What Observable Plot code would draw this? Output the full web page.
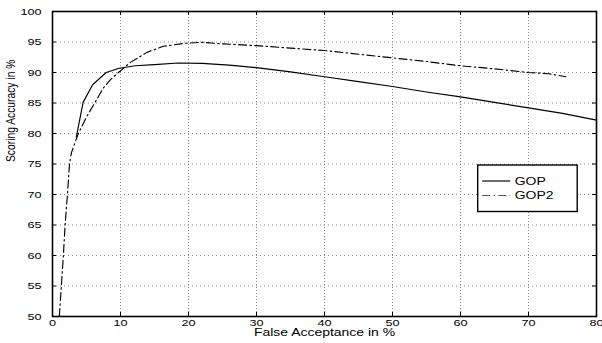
<!DOCTYPE html>
<html><head><meta charset="utf-8">
<script src="https://cdn.jsdelivr.net/npm/d3@7"></script>
<script src="https://cdn.jsdelivr.net/npm/@observablehq/plot@0.6"></script>
<style>
body{margin:0;background:#fff;}
#chart{position:relative;width:602px;height:343px;background:#fff;}
#chart svg{display:block;position:absolute;left:0;top:0;}
</style>
</head><body><div id="chart"></div>
<script>
// ---- data ----
const xTicks = [0, 10, 20, 30, 40, 50, 60, 70, 80];
const yTicks = [50, 55, 60, 65, 70, 75, 80, 85, 90, 95, 100];
const seriesNames = ["GOP", "GOP2"];
const xLabel = "False Acceptance in %";
const yLabel = "Scoring Accuracy in %";

const gopX = [3.5, 4.5, 5.9, 7.9, 9.8, 12.2, 15, 18.5, 22, 26, 30, 35, 40, 45, 50, 55, 60, 65, 70, 75, 80];
const gopY = [79.4, 85.1, 88.0, 90.0, 90.7, 91.1, 91.3, 91.55, 91.5, 91.2, 90.8, 90.1, 89.3, 88.5, 87.7, 86.8, 86.0, 85.1, 84.2, 83.3, 82.2];

const gop2X = [1.0, 1.3, 1.6, 1.85, 2.2, 2.5, 2.8, 3.8, 5.0, 6.2, 7.5, 8.5, 9.7, 11.5, 13.9, 16.3, 19.6, 22, 25, 30, 35, 40, 45, 50, 55, 60, 65, 70, 73, 75.5];
const gop2Y = [50, 55, 60, 65, 70, 75, 76.9, 80.0, 82.7, 85.0, 87.5, 88.8, 90.0, 91.7, 93.3, 94.3, 94.8, 94.95, 94.7, 94.4, 94.0, 93.6, 93.0, 92.4, 91.8, 91.1, 90.6, 90.0, 89.8, 89.3];

// ---- layout ----
const W = 602, H = 343;
const mL = 52, mR = 6, mT = 11, mB = 27;
const frameW = W - mL - mR, frameH = H - mT - mB;
const SX = 1.33; // the reference's text is horizontally widened
const fontFam = "'Liberation Sans', Arial, Helvetica, sans-serif";
const dashDot = "8,3.3,1.5,3.3";

const gop = gopX.map((x, i) => ({x, y: gopY[i]}));
const gop2 = gop2X.map((x, i) => ({x, y: gop2Y[i]}));

const common = {
  width: W, height: H,
  marginLeft: mL, marginRight: mR, marginTop: mT, marginBottom: mB,
  x: {domain: [0, 80], axis: null},
  y: {domain: [50, 100], axis: null}
};

// layer 1: dotted grid and frame
const grid = Plot.plot({
  ...common,
  style: {fontFamily: fontFam, background: "white"},
  marks: [
    Plot.ruleX(xTicks, {x: d => d, stroke: "#8a8a8a", strokeDasharray: "1,2"}),
    Plot.ruleY(yTicks, {y: d => d, stroke: "#8a8a8a", strokeDasharray: "1,3"}),
    Plot.frame({stroke: "black", strokeWidth: 1.6})
  ]
});

// layer 2: inward ticks on all four sides
const ticks = Plot.plot({
  ...common,
  style: {background: "transparent"},
  marks: [
    Plot.ruleX(xTicks, {x: d => d, insetTop: frameH - 4, stroke: "black"}),
    Plot.ruleX(xTicks, {x: d => d, insetBottom: frameH - 4, stroke: "black"}),
    Plot.ruleY(yTicks, {y: d => d, insetRight: frameW - 4, stroke: "black"}),
    Plot.ruleY(yTicks, {y: d => d, insetLeft: frameW - 4, stroke: "black"})
  ]
});

// layer 3: tick labels and axis titles
const labels = Plot.plot({
  ...common,
  style: {fontFamily: fontFam, background: "transparent"},
  marks: [
    Plot.text(xTicks, {x: d => d, text: d => String(d), frameAnchor: "bottom", dy: 9, fontSize: 9.5, fill: "black"}),
    Plot.text(yTicks, {y: d => d, text: d => String(d), frameAnchor: "left", textAnchor: "end", dx: -11, fontSize: 9.5, fill: "black"}),
    Plot.text([xLabel], {text: d => d, frameAnchor: "bottom", dy: 19, fontSize: 10.5, fill: "black"}),
    Plot.text([yLabel], {text: d => d, frameAnchor: "left", dx: 10 - mL, dy: -2, rotate: -90, fontSize: 10.3, fill: "black"})
  ]
});
d3.select(labels).selectAll("text").each(function () {
  const t = this.getAttribute("transform");
  if (!t) return;
  if (t.includes("rotate(")) this.setAttribute("transform", t.replace("rotate(", `scale(${SX},1) rotate(`));
  else this.setAttribute("transform", `${t} scale(${SX},1)`);
});

// layer 4: the two curves
const curves = Plot.plot({
  ...common,
  style: {background: "transparent"},
  marks: [
    Plot.line(gop, {x: "x", y: "y", stroke: "black", strokeWidth: 1.15}),
    Plot.line(gop2, {x: "x", y: "y", stroke: "black", strokeWidth: 1.15, strokeDasharray: dashDot})
  ]
});

// layer 5: legend
const legend = d3.create("svg").attr("width", W).attr("height", H).attr("font-family", fontFam);
const bx = 477.7, by = 165, bw = 99.5, bh = 46.5;
legend.append("rect").attr("x", bx).attr("y", by).attr("width", bw).attr("height", bh)
  .attr("fill", "white").attr("stroke", "black").attr("stroke-width", 1.4);
seriesNames.forEach((name, i) => {
  const ly = by + 16 + i * 14.5;
  legend.append("line").attr("x1", bx + 4.5).attr("x2", bx + 32.5).attr("y1", ly).attr("y2", ly)
    .attr("stroke", i === 0 ? "black" : "#555").attr("stroke-width", 1.15)
    .attr("stroke-dasharray", i === 0 ? null : dashDot);
  legend.append("text").attr("x", 0).attr("y", 0).attr("dy", "0.35em")
    .attr("transform", `translate(${bx + 37},${ly}) scale(${SX},1)`)
    .attr("text-anchor", "start").attr("font-size", 10.5).attr("fill", "black").text(name);
});

const chart = document.getElementById("chart");
[grid, ticks, labels, curves, legend.node()].forEach(n => chart.appendChild(n));
</script>
</body></html>
